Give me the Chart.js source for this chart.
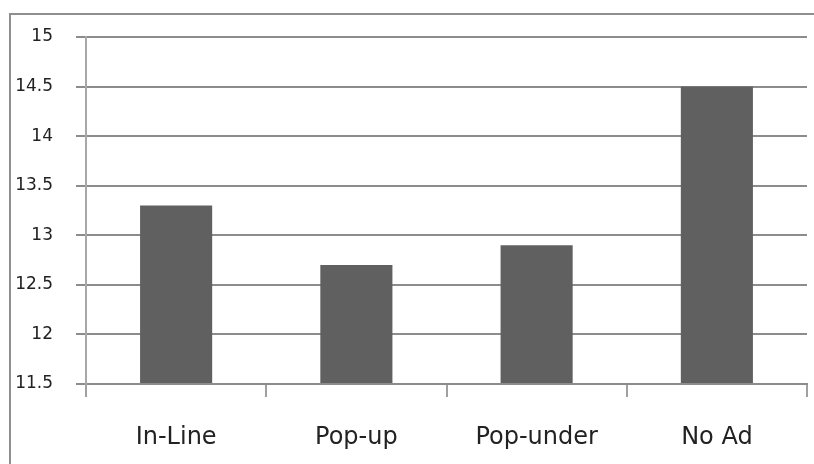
<!DOCTYPE html>
<html lang="en">
<head>
    <meta charset="UTF-8">
    <title>Ad type chart</title>
    <script src="https://cdn.jsdelivr.net/npm/chart.js"></script>
    <style>
        html, body { margin: 0; padding: 0; background: #fff; overflow: hidden; }
        .frame {
            position: absolute; left: 9px; top: 13px;
            width: 900px; height: 600px;
            border: 2px solid #8f8f8f;
        }
        .container { position: absolute; left: 0; top: 0; width: 814px; height: 464px; }
    </style>
</head>
<body>
    <div class="frame"></div>
    <div class="container">
        <canvas id="grafica" width="814" height="464"></canvas>
    </div>
    <script>
        // datos del gráfico
        const categories = ['In-Line', 'Pop-up', 'Pop-under', 'No Ad'];
        const values = [13.3, 12.7, 12.9, 14.5];
        const yTicks = [11.5, 12, 12.5, 13, 13.5, 14, 14.5, 15];

        const ctx = document.getElementById('grafica').getContext('2d');

        new Chart(ctx, {
            type: 'bar',
            data: {
                labels: categories,
                datasets: [{
                    data: values,
                    backgroundColor: '#606060',
                    borderWidth: 0,
                    barPercentage: 0.4,
                    categoryPercentage: 1.0,
                    base: 11.5
                }]
            },
            options: {
                responsive: false,
                animation: false,
                layout: { padding: { left: 0, right: 7, top: 37, bottom: 0 } },
                plugins: { legend: { display: false }, tooltip: { enabled: false } },
                scales: {
                    x: {
                        afterFit: (scale) => { scale.height = 80; },
                        grid: {
                            offset: true,
                            drawOnChartArea: false,
                            drawTicks: true,
                            tickLength: 13,
                            color: '#a0a0a0',
                            lineWidth: 2
                        },
                        border: { display: true, color: '#8c8c8c', width: 2 },
                        ticks: {
                            padding: 26,
                            color: '#222',
                            font: { family: 'DejaVu Sans', size: 24 }
                        }
                    },
                    y: {
                        min: 11.5,
                        max: 15,
                        afterFit: (scale) => { scale.width = 86; },
                        afterBuildTicks: (scale) => {
                            scale.ticks = yTicks.map(v => ({ value: v }));
                        },
                        grid: {
                            color: '#8c8c8c',
                            lineWidth: 2,
                            drawTicks: true,
                            tickLength: 10
                        },
                        border: { display: true, color: '#a8a8a8', width: 2 },
                        ticks: {
                            padding: 23,
                            color: '#222',
                            font: { family: 'DejaVu Sans', size: 17 },
                            callback: (v) => String(v)
                        }
                    }
                }
            }
        });
    </script>
</body>
</html>
